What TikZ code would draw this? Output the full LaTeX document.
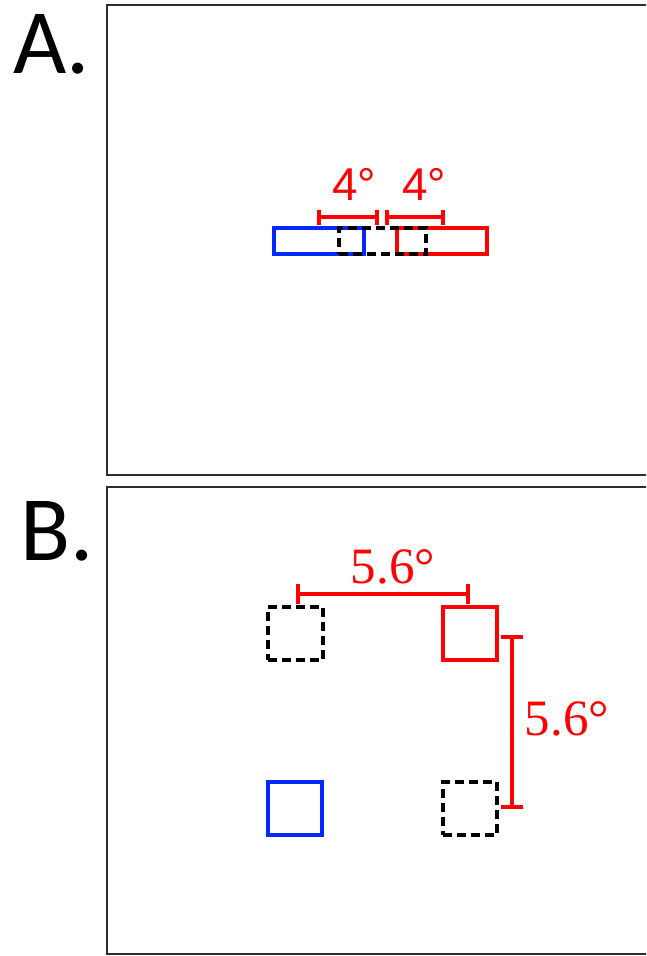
\documentclass[tikz,border=0pt]{standalone}
\usepackage{fontspec}
\usetikzlibrary{arrows.meta}
\newfontfamily\panelfont{Carlito}
\newfontfamily\sanslab{Liberation Sans}
\newfontfamily\seriflab{Liberation Serif}
\definecolor{myred}{RGB}{255,0,0}
\definecolor{myblue}{RGB}{0,40,255}
\definecolor{frame}{RGB}{45,45,45}
\begin{document}
\begin{tikzpicture}[x=1pt,y=-1pt,
  panelframe/.style={draw=frame,line width=2.6pt},
  panellabel/.style={font=\panelfont\fontsize{92}{92}\selectfont,inner sep=0,anchor=base west},
  bluebox/.style={draw=myblue,line width=3.5pt,inner sep=0,minimum width=#1},
  redbox/.style={draw=myred,line width=3.5pt,inner sep=0,minimum width=#1},
  dashbox/.style={draw=black,line width=3.5pt,dash pattern=on 9pt off 5pt,inner sep=0,minimum width=#1},
  bar/.style={draw=myred,line width=4pt,{Bar[width=#1]}-{Bar[width=#1]}},
  sanslabel/.style={text=myred,font=\sanslab\fontsize{46}{46}\selectfont,inner sep=0},
  seriflabel/.style={text=myred,font=\seriflab\fontsize{51}{51}\selectfont,inner sep=0},
]
\useasboundingbox (0,0) rectangle (646,956);
\clip (0,0) rectangle (646,956);
\fill[white] (0,0) rectangle (646,956);
% frames
\draw[panelframe] (700,5) -- (107,5) -- (107,475) -- (700,475);
\draw[panelframe] (700,487) -- (107,487) -- (107,954) -- (700,954);
\node[panellabel] (labA) at (13,73) {A.};
\node[panellabel] (labB) at (20,560) {B.};
% panel A
\node[bluebox=90pt,minimum height=26pt] (ablue) at (319,241) {};
\node[redbox=90pt,minimum height=26pt] (ared) at (442,241) {};
\node[dashbox=87pt,minimum height=26pt] (adash) at (382.5,241) {};
\coordinate (a1) at (317,217);
\coordinate (a2) at (378.5,217);
\coordinate (a3) at (384.5,217);
\coordinate (a4) at (445,217);
\draw[bar=15pt] (a1) -- (a2);
\draw[bar=15pt] (a3) -- (a4);
\node[sanslabel] (la1) at (354,184) {4°};
\node[sanslabel] (la2) at (424,184) {4°};
% panel B
\node[dashbox=55pt,minimum height=53pt] (bd1) at (295.5,633.5) {};
\node[redbox=54pt,minimum height=53pt] (br) at (470,633.5) {};
\node[bluebox=54pt,minimum height=53pt] (bb) at (295,808.5) {};
\node[dashbox=54pt,minimum height=53pt] (bd2) at (470,808.5) {};
\coordinate (b1) at (296,594);
\coordinate (b2) at (470,594);
\coordinate (b3) at (512,635);
\coordinate (b4) at (512,809);
\draw[bar=20pt] (b1) -- (b2);
\draw[bar=22pt] (b3) -- (b4);
\node[seriflabel] (lb1) at (393,567) {5.6°};
\node[seriflabel] (lb2) at (567,719) {5.6°};
\end{tikzpicture}
\end{document}
